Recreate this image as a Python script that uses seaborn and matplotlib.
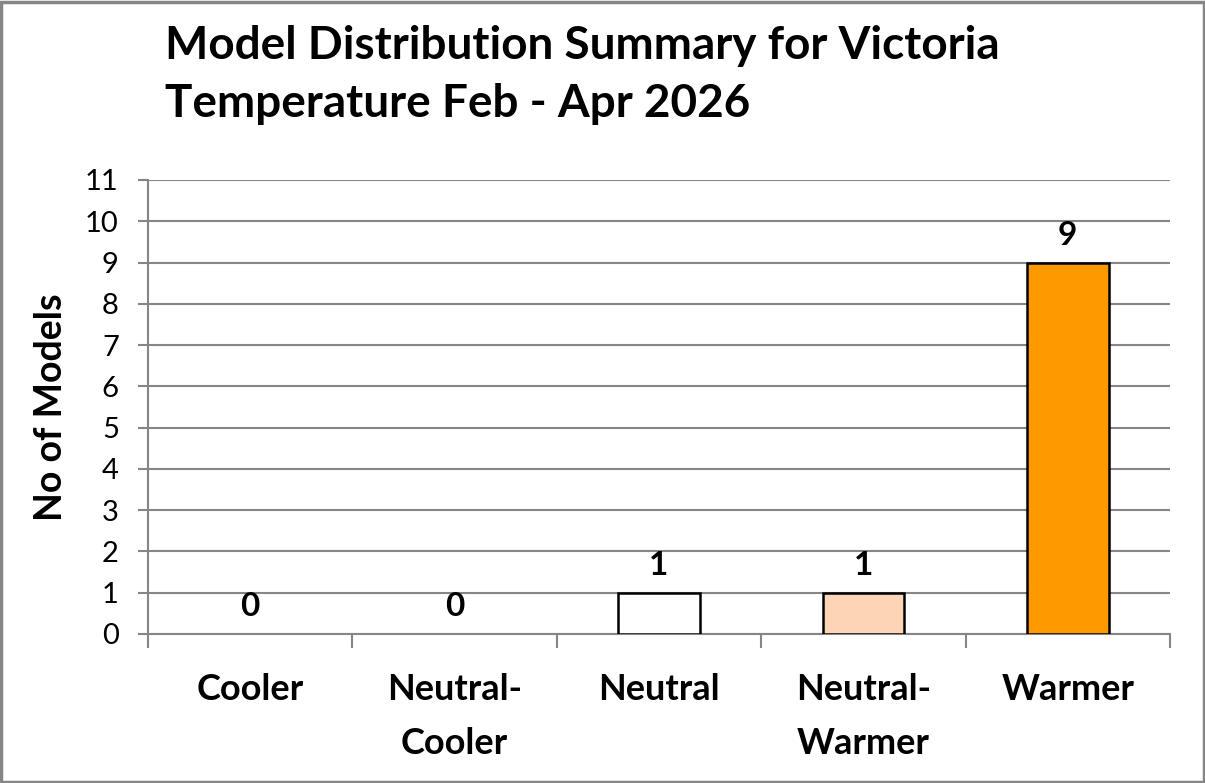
import matplotlib
matplotlib.use("Agg")
import matplotlib.pyplot as plt
import seaborn as sns
import pandas as pd
from matplotlib.patches import Rectangle

categories = ["Cooler", "Neutral-\nCooler", "Neutral", "Neutral-\nWarmer", "Warmer"]
counts = [0, 0, 1, 1, 9]
bar_colors = ["#4F81BD", "#B8CCE4", "#FFFFFF", "#FBD5B5", "#FF9900"]
y_ticks = list(range(0, 12))
title_text = "Model Distribution Summary for Victoria\nTemperature Feb - Apr 2026"
y_label = "No of Models"

sns.set_theme(style="white")
plt.rcParams['font.family'] = ['Lato', 'DejaVu Sans']
plt.rcParams['text.color'] = 'black'
plt.rcParams['axes.labelcolor'] = 'black'
plt.rcParams['xtick.color'] = 'black'
plt.rcParams['ytick.color'] = 'black'

df = pd.DataFrame({"cat": categories, "n": counts})

fig = plt.figure(figsize=(12.05, 7.83), dpi=100)
ax = fig.add_axes([148/1205, 1-634/783, (1170-148)/1205, (634-180)/783])

sns.barplot(data=df, x="cat", y="n", hue="cat", palette=bar_colors, legend=False,
            saturation=1, width=0.4, edgecolor="black", linewidth=1.8, ax=ax, zorder=3)

bars = sorted([p for p in ax.patches], key=lambda p: p.get_x())
for p, v in zip(bars, counts):
    if v == 0:
        p.set_linewidth(0)
    ax.annotate(str(v), (p.get_x() + p.get_width() / 2, p.get_height()),
                xytext=(0, 9), textcoords="offset points", ha="center", va="bottom",
                fontsize=24, fontweight="bold", color="black")

ax.set_ylim(0, 11)
ax.set_xlim(-0.5, 4.5)
ax.set_yticks(y_ticks)
ax.set_yticklabels([str(t) for t in y_ticks], fontsize=21)
ax.yaxis.grid(True, color="#868686", linewidth=1.5, zorder=0)
ax.set_axisbelow(True)

ax.set_xticks(range(len(categories)))
ax.set_xticklabels(categories, fontsize=26, fontweight="bold", linespacing=1.78)
ax.set_xticks([i - 0.5 for i in range(len(categories) + 1)], minor=True)
ax.tick_params(axis="x", which="major", length=0, pad=28)
ax.tick_params(axis="x", which="minor", length=10, width=1.5, color="#868686", bottom=True)
ax.tick_params(axis="y", which="major", length=7, width=1.5, color="#868686",
               labelcolor="black", left=True, pad=14)

for s in ["top", "right"]:
    ax.spines[s].set_visible(False)
for s in ["left", "bottom"]:
    ax.spines[s].set_color("#868686")
    ax.spines[s].set_linewidth(1.5)

ax.set_xlabel("")
ax.set_ylabel(y_label, fontsize=27, fontweight="bold", labelpad=12, color="black")

fig.text(165/1205, 1-25/783, title_text, ha="left", va="top", fontsize=33,
         fontweight="bold", linespacing=1.47, color="black")

fig.patches.append(Rectangle((0.001, 0.001), 0.998, 0.997, transform=fig.transFigure,
                             fill=False, edgecolor="#868686", linewidth=2.5))

fig.savefig("out.png", dpi=100)
